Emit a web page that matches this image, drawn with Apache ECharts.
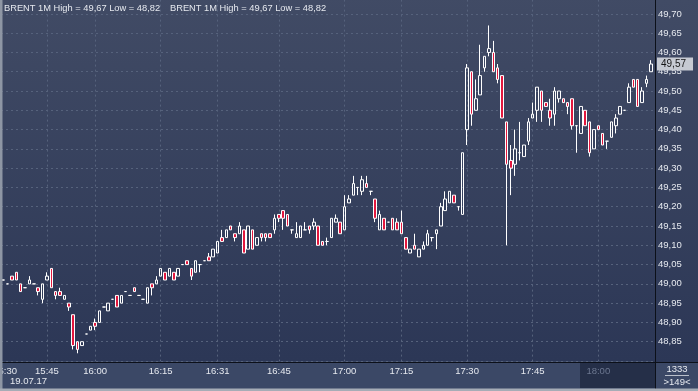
<!DOCTYPE html>
<html><head><meta charset="utf-8">
<script src="https://cdn.jsdelivr.net/npm/echarts@6/dist/echarts.min.js"></script>
<style>html,body{margin:0;padding:0;background:#2f3a56;}#c{width:698px;height:391px;}</style>
</head><body><div id="c"></div>
<script>
// ---- data ----
const openP = [
49.01,49.00,49.02,49.03,49.00,48.99,49.00,49.00,48.99,48.96,
49.01,49.04,48.98,48.98,48.96,48.95,48.92,48.85,48.84,48.87,
48.88,48.90,48.90,48.94,48.93,48.96,48.97,48.95,48.98,48.97,
48.99,48.97,48.96,48.95,49.00,49.00,49.02,49.03,49.02,49.03,
49.02,49.05,49.06,49.04,49.03,49.05,49.06,49.07,49.07,49.08,
49.12,49.12,49.15,49.13,49.13,49.14,49.09,49.14,49.10,49.13,
49.13,49.13,49.14,49.18,49.19,49.18,49.14,49.12,49.12,49.14,
49.15,49.15,49.15,49.11,49.11,49.12,49.16,49.16,49.14,49.21,
49.23,49.25,49.24,49.26,49.24,49.22,49.14,49.17,49.16,49.17,
49.16,49.16,49.12,49.08,49.10,49.07,49.09,49.10,49.12,49.13,
49.15,49.19,49.21,49.23,49.20,49.18,49.40,49.55,49.45,49.49,
49.56,49.60,49.60,49.56,49.54,49.42,49.32,49.31,49.34,49.33,
49.37,49.43,49.45,49.50,49.47,49.45,49.44,49.48,49.48,49.47,
49.48,49.41,49.39,49.45,49.42,49.35,49.41,49.39,49.37,49.38,
49.41,49.44,49.45,49.47,49.53,49.53,49.47,49.52,49.55];
const closeP = [
49.01,49.00,49.01,49.01,48.98,48.99,49.01,49.00,48.98,49.00,
49.02,48.99,48.97,48.97,48.97,48.94,48.84,48.83,48.85,48.87,
48.89,48.89,48.93,48.94,48.95,48.96,48.94,48.97,48.98,48.97,
48.98,48.97,48.96,48.99,48.99,49.01,49.04,49.01,49.04,49.01,
49.04,49.05,49.05,49.02,49.06,49.05,49.06,49.06,49.09,49.11,
49.11,49.14,49.14,49.12,49.15,49.08,49.15,49.09,49.12,49.12,
49.12,49.12,49.17,49.17,49.17,49.15,49.14,49.13,49.15,49.14,
49.14,49.16,49.10,49.10,49.11,49.17,49.17,49.13,49.20,49.22,
49.26,49.25,49.27,49.25,49.24,49.17,49.18,49.14,49.16,49.14,
49.14,49.13,49.09,49.09,49.09,49.09,49.10,49.13,49.12,49.14,
49.20,49.22,49.24,49.21,49.20,49.34,49.56,49.44,49.48,49.54,
49.59,49.61,49.55,49.53,49.43,49.31,49.30,49.35,49.34,49.36,
49.42,49.44,49.51,49.45,49.46,49.43,49.50,49.50,49.47,49.46,
49.41,49.41,49.46,49.41,49.34,49.40,49.40,49.36,49.37,49.42,
49.43,49.46,49.45,49.51,49.51,49.46,49.50,49.53,49.57];
const lowP = [
49.01,49.00,49.01,49.01,48.98,48.99,49.00,49.00,48.97,48.95,
49.01,48.99,48.96,48.97,48.96,48.93,48.83,48.82,48.84,48.87,
48.88,48.88,48.90,48.94,48.93,48.96,48.94,48.95,48.98,48.97,
48.98,48.97,48.96,48.95,48.97,49.00,49.02,49.01,49.02,49.01,
49.02,49.05,49.05,49.01,49.03,49.03,49.06,49.06,49.07,49.08,
49.11,49.12,49.14,49.11,49.13,49.08,49.09,49.09,49.10,49.11,
49.11,49.12,49.13,49.16,49.14,49.15,49.13,49.12,49.12,49.14,
49.13,49.14,49.10,49.10,49.10,49.12,49.16,49.13,49.14,49.21,
49.23,49.23,49.23,49.25,49.23,49.16,49.14,49.14,49.16,49.14,
49.14,49.13,49.09,49.08,49.09,49.07,49.09,49.10,49.11,49.09,
49.15,49.19,49.21,49.21,49.19,49.18,49.36,49.41,49.45,49.49,
49.55,49.59,49.55,49.52,49.43,49.10,49.23,49.28,49.32,49.33,
49.36,49.43,49.42,49.42,49.46,49.41,49.41,49.47,49.47,49.44,
49.40,49.34,49.39,49.41,49.33,49.35,49.40,49.36,49.35,49.38,
49.39,49.44,49.45,49.47,49.51,49.46,49.47,49.51,49.55];
const highP = [
49.01,49.00,49.02,49.03,49.00,48.99,49.02,49.00,48.99,49.00,
49.03,49.04,48.98,48.99,48.97,48.95,48.92,48.85,48.85,48.87,
48.89,48.91,48.93,48.94,48.95,48.96,48.97,48.97,48.98,48.97,
48.99,48.97,48.96,48.99,49.00,49.02,49.04,49.03,49.04,49.03,
49.04,49.05,49.06,49.04,49.06,49.05,49.06,49.08,49.09,49.11,
49.14,49.14,49.15,49.13,49.16,49.14,49.15,49.14,49.12,49.13,
49.13,49.13,49.18,49.18,49.19,49.18,49.14,49.16,49.15,49.16,
49.15,49.17,49.15,49.11,49.12,49.17,49.18,49.16,49.23,49.23,
49.28,49.25,49.28,49.28,49.24,49.22,49.19,49.17,49.16,49.17,
49.17,49.19,49.12,49.09,49.13,49.09,49.11,49.14,49.12,49.14,
49.21,49.24,49.24,49.23,49.20,49.34,49.57,49.55,49.53,49.62,
49.59,49.67,49.63,49.57,49.54,49.42,49.36,49.40,49.42,49.36,
49.43,49.47,49.51,49.50,49.47,49.48,49.51,49.50,49.48,49.47,
49.48,49.41,49.46,49.45,49.42,49.40,49.41,49.39,49.37,49.42,
49.44,49.46,49.45,49.52,49.53,49.53,49.51,49.54,49.58];
// x-axis tick labels: [bar index, time]
const timeTicks = [[0,'15:30'],[10,'15:45'],[21,'16:00'],[36,'16:15'],[49,'16:31'],[63,'16:45'],
  [78,'17:00'],[91,'17:15'],[106,'17:30'],[121,'17:45'],[136,'18:00']];
const headerText = 'BRENT 1M High = 49,67 Low = 48,82';
const dateText = '19.07.17';
const totalBars = '1333';
const shownBars = '>149<';
const yMin = 48.80, yMax = 49.75, yStep = 0.05;

// ---- build ----
const tickMap = {};
timeTicks.forEach(([i, t]) => { tickMap[i] = t; });
const categories = openP.map((_, i) => tickMap[i] || '');
const candles = openP.map((o, i) => [o, closeP[i], lowP[i], highP[i]]);
const lastClose = closeP[closeP.length - 1];
const fmt = v => Number(v).toFixed(2).replace('.', ',');
const FONT = 'Liberation Sans, Arial, sans-serif';
const TXT = '#e6e9ef';
const FS = 9.5;

const chart = echarts.init(document.getElementById('c'), null, {renderer: 'canvas'});
chart.setOption({
  animation: false,
  backgroundColor: '#3a4765',
  grid: {
    left: 1, right: 45, top: -5.4, bottom: 30,
    outerBoundsMode: 'none', containLabel: false,
    show: true, borderWidth: 0,
    backgroundColor: {type: 'linear', x: 0, y: 0, x2: 0, y2: 1,
      colorStops: [{offset: 0, color: '#414b65'}, {offset: 1, color: '#2c3756'}]}
  },
  xAxis: {
    type: 'category', data: categories, boundaryGap: true,
    axisLine: {show: false}, axisTick: {show: false},
    axisLabel: {
      interval: (i, v) => v !== '',
      margin: 5, hideOverlap: false,
      fontSize: FS, fontFamily: FONT,
      color: (v) => v === '18:00' ? '#6c7790' : TXT,
      formatter: (v, i) => i === 0 ? '{f|' + v + '}' : v,
      rich: {f: {padding: [0, 0, 0, 4], fontSize: FS, fontFamily: FONT, color: TXT}}
    },
    splitLine: {show: true, alignWithLabel: true,
      interval: (i, v) => v !== '' && i !== 0,
      lineStyle: {color: '#56627c', type: [2, 3], width: 1}}
  },
  yAxis: {
    type: 'value', position: 'right', min: yMin, max: yMax, interval: yStep, scale: true,
    axisLine: {show: false}, axisTick: {show: false},
    axisLabel: {margin: 5, fontSize: FS, fontFamily: FONT, color: TXT, formatter: fmt,
      showMinLabel: false, showMaxLabel: false},
    splitLine: {show: true, lineStyle: {color: '#56627c', type: [2, 3], width: 1}}
  },
  series: [{
    type: 'candlestick', data: candles, barWidth: 3, clip: false,
    itemStyle: {color: 'rgba(0,0,0,0)', color0: '#e3173e', borderColor: '#ffffff', borderColor0: '#ffffff', borderWidth: 1},
    markLine: {
      silent: true, symbol: 'none', z: 50,
      lineStyle: {color: 'rgba(0,0,0,0)', width: 1, type: 'solid'},
      data: [{yAxis: lastClose}],
      label: {show: true, position: 'end', distance: 4, formatter: p => fmt(p.value),
        backgroundColor: '#c6cad2', color: '#151515', fontSize: FS + 0.5, fontFamily: FONT,
        padding: [2, 7, 1, 4]}
    }
  }],
  graphic: [
    {type: 'rect', z: -5, shape: {x: 653, y: 0, width: 45, height: 362},
      style: {fill: {type: 'linear', x: 0, y: 0, x2: 0, y2: 1,
        colorStops: [{offset: 0, color: '#414b65'}, {offset: 1, color: '#2c3756'}]}}},
    {type: 'rect', z: -4, shape: {x: 0, y: 362, width: 698, height: 27}, style: {fill: '#3b4866'}},
    {type: 'rect', z: -3, shape: {x: 580, y: 363, width: 75, height: 25}, style: {fill: '#252f48'}},
    {type: 'line', z: 30, shape: {x1: 0, y1: 362.5, x2: 698, y2: 362.5}, style: {stroke: '#0c1019', lineWidth: 1}},
    {type: 'line', z: 30, shape: {x1: 655.5, y1: 0, x2: 655.5, y2: 389}, style: {stroke: '#0c1019', lineWidth: 1}},
    {type: 'rect', z: 40, shape: {x: 0, y: 0, width: 2.5, height: 391}, style: {fill: '#8e96a4'}},
    {type: 'rect', z: 40, shape: {x: 0, y: 388.5, width: 698, height: 3}, style: {fill: '#a6acb6'}},
    {type: 'text', z: 20, left: 4, top: 4, style: {text: headerText, fill: TXT, font: '9.3px ' + FONT}},
    {type: 'text', z: 20, left: 170, top: 4, style: {text: headerText, fill: TXT, font: '9.3px ' + FONT}},
    {type: 'text', z: 20, left: 10, top: 376, style: {text: dateText, fill: TXT, font: FS + 'px ' + FONT}},
    {type: 'text', z: 20, x: 677, y: 369.5, style: {text: totalBars, fill: TXT, font: FS + 'px ' + FONT, textAlign: 'center', textVerticalAlign: 'middle'}},
    {type: 'line', z: 20, shape: {x1: 665, y1: 375.5, x2: 689, y2: 375.5}, style: {stroke: '#b9bfca', lineWidth: 1}},
    {type: 'text', z: 20, x: 677, y: 382, style: {text: shownBars, fill: TXT, font: FS + 'px ' + FONT, textAlign: 'center', textVerticalAlign: 'middle'}}
  ]
});
</script></body></html>
